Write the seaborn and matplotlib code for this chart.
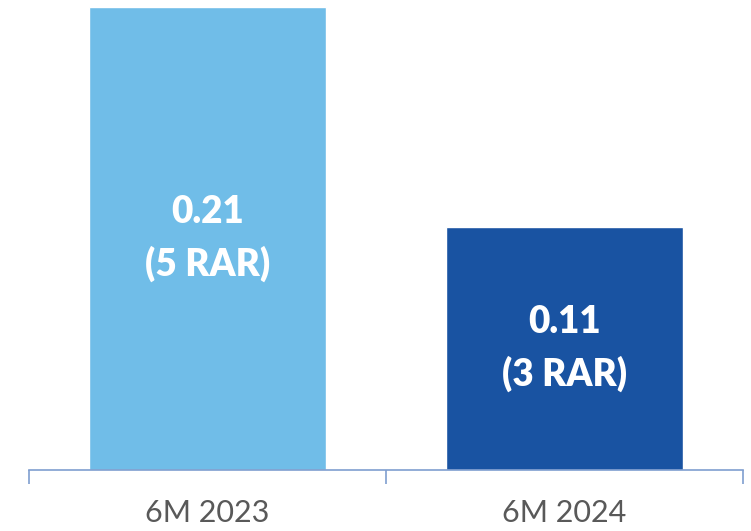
import matplotlib
matplotlib.use("Agg")
import matplotlib.pyplot as plt
import seaborn as sns
import pandas as pd

periods = ["6M 2023", "6M 2024"]
values = [0.21, 0.11]
rar_counts = [5, 3]
bar_colors = ["#70BDE8", "#1953A2"]

axis_color = "#7F9ECF"

sns.set_style("white")
plt.rcParams["font.family"] = ["Lato", "DejaVu Sans"]

df = pd.DataFrame({"period": periods, "value": values})

fig = plt.figure(figsize=(7.51, 5.31), dpi=100)
ax = fig.add_axes([29 / 751, 61 / 531, 714 / 751, 463 / 531])

sns.barplot(data=df, x="period", y="value", hue="period",
            palette=bar_colors, width=0.664, legend=False,
            saturation=1, ax=ax)

for i, (v, n) in enumerate(zip(values, rar_counts)):
    ax.text(i, v / 2, f"{v:.2f}\n({n} RAR)", ha="center", va="center",
            color="white", fontsize=26.5, fontweight="heavy", linespacing=1.55)

ax.set_xlim(-0.5, 1.5)
ax.set_ylim(0, 0.21)

for s in ["top", "right", "left"]:
    ax.spines[s].set_visible(False)
ax.spines["bottom"].set_color(axis_color)
ax.spines["bottom"].set_linewidth(1.2)

ax.set_yticks([])
ax.set_xlabel("")
ax.set_ylabel("")
ax.set_xticks([0, 1])
ax.set_xticklabels(periods)
ax.set_xticks([-0.5, 0.5, 1.5], minor=True)
ax.tick_params(axis="x", which="major", length=0, pad=21,
               labelsize=22, labelcolor="#595959")
ax.tick_params(axis="x", which="minor", length=10, width=1.2,
               color=axis_color, direction="out", bottom=True)

fig.savefig("out.png", dpi=100)
